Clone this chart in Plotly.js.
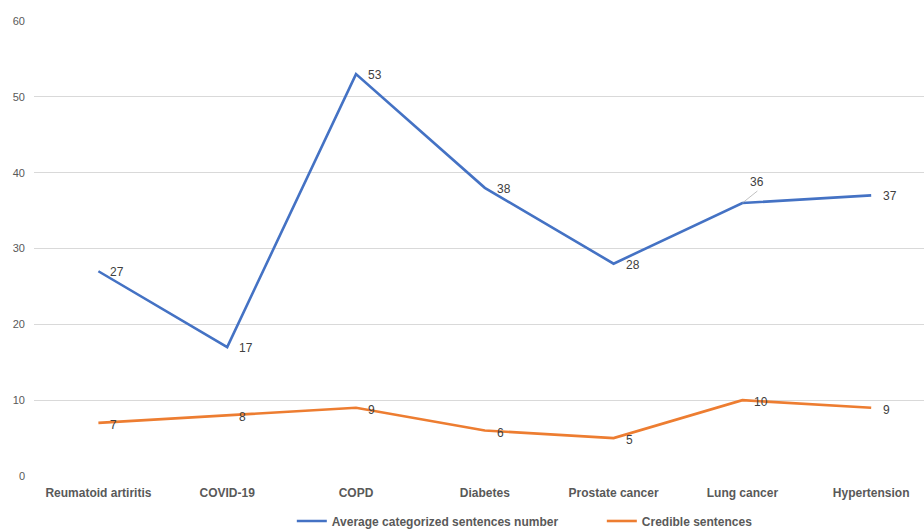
<!DOCTYPE html>
<html>
<head>
<meta charset="utf-8">
<script src="https://cdn.plot.ly/plotly-3.0.1.min.js"></script>
<style>html,body{margin:0;padding:0;background:#fff;}#chart{width:924px;height:532px;}</style>
</head>
<body>
<div id="chart"></div>
<script>
const categories = ["Reumatoid artiritis", "COVID-19", "COPD", "Diabetes", "Prostate cancer", "Lung cancer", "Hypertension"];
const averageSentences = [27, 17, 53, 38, 28, 36, 37];
const credibleSentences = [7, 8, 9, 6, 5, 10, 9];
const seriesNames = ["Average categorized sentences number", "Credible sentences"];
const yTicks = [0, 10, 20, 30, 40, 50, 60];

const blue = "#4472C4", orange = "#ED7D31";
const labelFont = {family: "Liberation Sans, Arial, sans-serif", size: 12, color: "#404040"};

const traces = [
  {x: categories, y: averageSentences, name: seriesNames[0], type: "scatter", mode: "lines",
   line: {color: blue, width: 2.6}, hoverinfo: "x+y"},
  {x: categories, y: credibleSentences, name: seriesNames[1], type: "scatter", mode: "lines",
   line: {color: orange, width: 2.6}, hoverinfo: "x+y"}
];

const annotations = [];
averageSentences.forEach((v, i) => {
  if (categories[i] === "Lung cancer") {
    annotations.push({x: categories[i], y: v, xref: "x", yref: "y", text: String(v), showarrow: true,
      arrowhead: 0, arrowwidth: 0.7, arrowcolor: "#a6a6a6", ax: 15, ay: -12, standoff: 0,
      font: labelFont, yanchor: "bottom", xanchor: "center"});
  } else {
    annotations.push({x: categories[i], y: v, xref: "x", yref: "y", text: String(v), showarrow: false,
      xanchor: "left", xshift: 10, yshift: -1, font: labelFont});
  }
});
credibleSentences.forEach((v, i) => {
  annotations.push({x: categories[i], y: v, xref: "x", yref: "y", text: String(v), showarrow: false,
    xanchor: "left", xshift: 10, yshift: -2, font: labelFont});
});

const layout = {
  width: 924, height: 532,
  margin: {l: 34, r: 0, t: 21, b: 56, autoexpand: false},
  paper_bgcolor: "#fff", plot_bgcolor: "#fff",
  font: {family: "Liberation Sans, Arial, sans-serif", color: "#595959"},
  xaxis: {type: "category", range: [-0.5, 6.41], showgrid: false, zeroline: false, showline: false,
    ticks: "", tickfont: {family: "Liberation Sans, Arial, sans-serif", size: 12, color: "#595959", weight: "bold"},
    ticklabelstandoff: 8, fixedrange: true},
  yaxis: {range: [0, 60], tickvals: yTicks, ticktext: yTicks.map(String), showgrid: true, gridcolor: "#d9d9d9",
    gridwidth: 1, zeroline: false, showline: false, ticks: "",
    tickfont: {family: "Liberation Sans, Arial, sans-serif", size: 11, color: "#595959"},
    ticklabelstandoff: 8, fixedrange: true},
  showlegend: true,
  legend: {orientation: "h", x: 0.638, xanchor: "center", yref: "container", y: 0.0207, yanchor: "middle",
    font: {family: "Liberation Sans, Arial, sans-serif", size: 12, color: "#595959", weight: "bold"},
    entrywidth: 265, itemwidth: 30},
  annotations: annotations
};

Plotly.newPlot("chart", traces, layout, {displayModeBar: false, staticPlot: true});
</script>
</body>
</html>
